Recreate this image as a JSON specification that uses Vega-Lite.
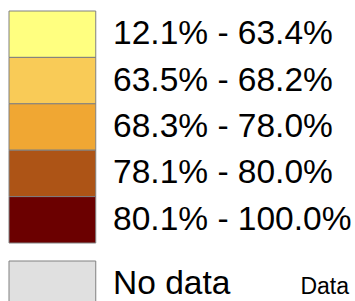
{
  "$schema": "https://vega.github.io/schema/vega-lite/v6.json",
  "padding": {"left": 8, "top": 10, "right": 0, "bottom": 0},
  "config": {"view": {"stroke": null}, "concat": {"spacing": 16}},
  "vconcat": [
    {
      "width": 347,
      "height": 232,
      "data": {"values": [
        {"label": "12.1% - 63.4%"},
        {"label": "63.5% - 68.2%"},
        {"label": "68.3% - 78.0%"},
        {"label": "78.1% - 80.0%"},
        {"label": "80.1% - 100.0%"}
      ]},
      "encoding": {
        "y": {"field": "label", "type": "nominal", "sort": null, "axis": null, "scale": {"paddingInner": 0, "paddingOuter": 0}}
      },
      "layer": [
        {
          "mark": {"type": "rect", "stroke": "#808080", "strokeWidth": 1},
          "encoding": {
            "x": {"datum": 0, "type": "quantitative", "scale": {"domain": [0, 4]}, "axis": null},
            "x2": {"datum": 1},
            "color": {"field": "label", "type": "nominal", "sort": null, "legend": null,
              "scale": {"range": ["#FFFF80", "#F9CB57", "#F0A733", "#AD5416", "#6B0000"]}}
          }
        },
        {
          "mark": {"type": "text", "align": "left", "baseline": "middle", "font": "Liberation Sans", "fontSize": 33.5, "color": "#000000"},
          "encoding": {
            "x": {"datum": 1.2, "type": "quantitative"},
            "text": {"field": "label"}
          }
        }
      ]
    },
    {
      "width": 347,
      "height": 46,
      "data": {"values": [
        {"label": "No data", "note": "Data"}
      ]},
      "encoding": {
        "y": {"field": "label", "type": "nominal", "axis": null, "scale": {"paddingInner": 0, "paddingOuter": 0}}
      },
      "layer": [
        {
          "mark": {"type": "rect", "stroke": "#808080", "strokeWidth": 1, "fill": "#E0E0E0"},
          "encoding": {
            "x": {"datum": 0, "type": "quantitative", "scale": {"domain": [0, 4]}, "axis": null},
            "x2": {"datum": 1}
          }
        },
        {
          "mark": {"type": "text", "align": "left", "baseline": "middle", "font": "Liberation Sans", "fontSize": 33.5, "color": "#000000"},
          "encoding": {
            "x": {"datum": 1.2, "type": "quantitative"},
            "text": {"field": "label"}
          }
        },
        {
          "mark": {"type": "text", "align": "right", "baseline": "middle", "font": "Liberation Sans", "fontSize": 23, "color": "#000000", "dy": 3},
          "encoding": {
            "x": {"datum": 3.92, "type": "quantitative"},
            "text": {"field": "note"}
          }
        }
      ]
    }
  ]
}
